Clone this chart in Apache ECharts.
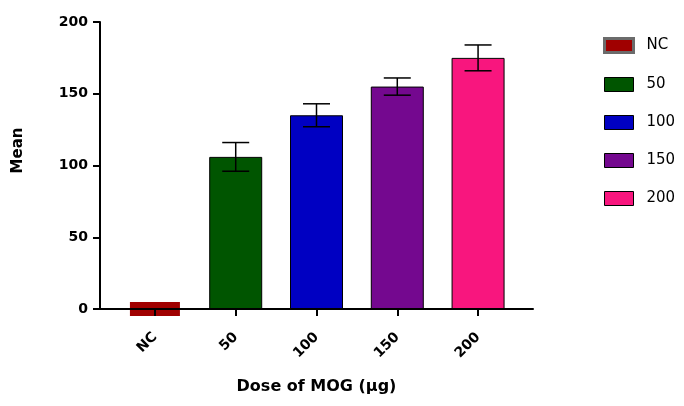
<!DOCTYPE html>
<html>
<head>
<meta charset="utf-8">
<script src="https://cdn.jsdelivr.net/npm/echarts@6/dist/echarts.min.js"></script>
<style>
  html, body { margin: 0; padding: 0; background: #fff; }
  #chart { width: 684px; height: 406px; }
</style>
</head>
<body>
<div id="chart"></div>
<script>
  const categories = ['NC', '50', '100', '150', '200'];
  const means = [0, 106, 135, 155, 175];
  const errors = [2, 10, 8, 6, 9];
  const colors = ['#a00000', '#005500', '#0000c2', '#74088f', '#f8167e'];
  const yTicks = [0, 50, 100, 150, 200];

  const chart = echarts.init(document.getElementById('chart'));
  const font = 'DejaVu Sans';

  // NC sits on the zero line, drawn as a flat block
  const ncSeries = {
    name: categories[0],
    type: 'custom',
    z: 4,
    data: [[0, means[0]]],
    renderItem(params, api) {
      const c = api.coord([api.value(0), api.value(1)]);
      return {
        type: 'rect',
        shape: { x: c[0] - 25, y: c[1] - 7, width: 50, height: 14 },
        style: { fill: colors[0] }
      };
    }
  };

  const barSeries = categories.slice(1).map((name, k) => {
    const i = k + 1;
    return {
      name: name,
      type: 'bar',
      barWidth: 53,
      barGap: '-100%',
      z: 2,
      itemStyle: { color: colors[i], borderColor: '#000', borderWidth: 1 },
      data: [[i, means[i]]]
    };
  });

  const errSeries = {
    type: 'custom',
    z: 3,
    silent: true,
    data: means.map((m, i) => [i, m, errors[i]]),
    renderItem(params, api) {
      const x = api.value(0), m = api.value(1), e = api.value(2);
      const top = api.coord([x, m + e]);
      const bot = api.coord([x, m - e]);
      const half = 13.5;
      const st = { stroke: '#000', lineWidth: 1.5 };
      return {
        type: 'group',
        children: [
          { type: 'line', shape: { x1: top[0], y1: top[1], x2: bot[0], y2: bot[1] }, style: st },
          { type: 'line', shape: { x1: top[0] - half, y1: top[1], x2: top[0] + half, y2: top[1] }, style: st },
          { type: 'line', shape: { x1: bot[0] - half, y1: bot[1], x2: bot[0] + half, y2: bot[1] }, style: st }
        ]
      };
    }
  };

  const option = {
    animation: false,
    backgroundColor: '#fff',
    grid: { left: 100, right: 151, top: 22, bottom: 97 },
    legend: {
      orient: 'vertical',
      left: 598,
      top: 32,
      itemWidth: 29,
      itemHeight: 14,
      itemGap: 23,
      icon: 'rect',
      textStyle: { fontFamily: font, fontSize: 15, color: '#000', padding: [0, 0, 0, 8] },
      data: [
        { name: 'NC', itemStyle: { color: colors[0], borderColor: '#6b6b6b', borderWidth: 3 } },
        { name: '50', itemStyle: { color: colors[1], borderColor: '#000', borderWidth: 1 } },
        { name: '100', itemStyle: { color: colors[2], borderColor: '#000', borderWidth: 1 } },
        { name: '150', itemStyle: { color: colors[3], borderColor: '#000', borderWidth: 1 } },
        { name: '200', itemStyle: { color: colors[4], borderColor: '#000', borderWidth: 1 } }
      ]
    },
    xAxis: {
      type: 'value',
      min: -0.68,
      max: 4.68,
      z: 10,
      name: 'Dose of MOG (µg)',
      nameLocation: 'middle',
      nameGap: 70,
      nameMoveOverlap: false,
      nameTextStyle: { fontFamily: font, fontSize: 16, fontWeight: 'bold', color: '#000' },
      splitLine: { show: false },
      axisLine: { show: true, onZero: false, lineStyle: { color: '#000', width: 2 } },
      axisTick: { show: true, length: 7, lineStyle: { color: '#000', width: 2 }, customValues: [0, 1, 2, 3, 4] },
      axisLabel: {
        customValues: [0, 1, 2, 3, 4],
        formatter: v => categories[Math.round(v)],
        rotate: 45,
        margin: 26,
        fontFamily: font,
        fontSize: 14,
        fontWeight: 'bold',
        color: '#000'
      }
    },
    yAxis: {
      type: 'value',
      min: 0,
      max: 200,
      interval: 50,
      name: 'Mean',
      nameLocation: 'middle',
      nameGap: 74,
      nameMoveOverlap: false,
      nameTextStyle: { fontFamily: font, fontSize: 15, fontWeight: 'bold', color: '#000', padding: [0, 0, 0, 30] },
      splitLine: { show: false },
      axisLine: { show: true, onZero: false, lineStyle: { color: '#000', width: 2 } },
      axisTick: { show: true, length: 7, lineStyle: { color: '#000', width: 2 } },
      axisLabel: {
        customValues: yTicks,
        margin: 12,
        fontFamily: font,
        fontSize: 14,
        fontWeight: 'bold',
        color: '#000'
      }
    },
    series: [ncSeries].concat(barSeries, [errSeries])
  };

  chart.setOption(option);
</script>
</body>
</html>
